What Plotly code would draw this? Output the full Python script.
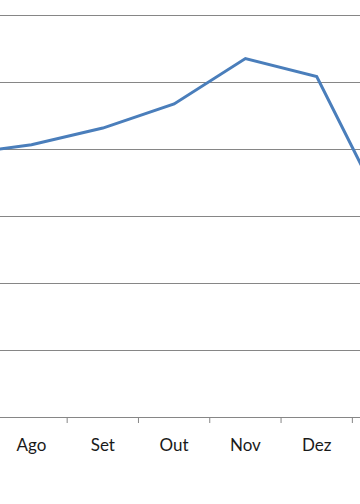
import plotly.graph_objects as go

months = ["Jul", "Ago", "Set", "Out", "Nov", "Dez", "Jan"]
values = [39.3, 40.7, 43.2, 46.8, 53.6, 50.9, 29.7]
y_ticks = [0, 10, 20, 30, 40, 50, 60]

fig = go.Figure()
fig.add_trace(go.Scatter(
    x=list(range(len(months))), y=values, mode="lines",
    line=dict(color="#4A7EBB", width=3),
    hoverinfo="skip", showlegend=False,
))

fig.update_layout(
    width=360, height=504,
    margin=dict(l=0, r=0, t=0, b=87),
    paper_bgcolor="white", plot_bgcolor="white",
    font=dict(family="Lato, Open Sans, sans-serif", size=17, color="#1a1a1a"),
    xaxis=dict(
        range=[0.558, 0.558 + 360 / 71.3],
        tickmode="array",
        tickvals=list(range(len(months))),
        ticktext=months,
        showgrid=False, zeroline=False,
        showline=True, linecolor="#868686", linewidth=1,
        ticks="",
        fixedrange=True,
    ),
    yaxis=dict(
        range=[0, 62.35],
        tickvals=y_ticks,
        showticklabels=False,
        showgrid=True, gridcolor="#868686", gridwidth=1,
        zeroline=False, showline=False, ticks="",
        fixedrange=True,
    ),
)

# boundary tick marks (between categories), drawn along the axis
for b in [i + 0.5 for i in range(-1, len(months))]:
    fig.add_shape(type="line", xref="x", yref="paper",
                  x0=b, x1=b, y0=0, y1=-6 / 417,
                  line=dict(color="#868686", width=1))

fig.update_xaxes(ticklabelstandoff=13)

fig.write_html("out.html")
